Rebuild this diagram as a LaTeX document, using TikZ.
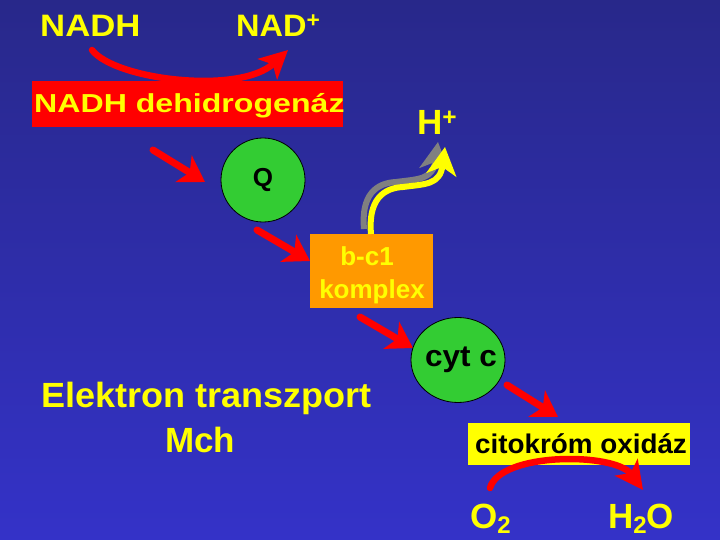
\documentclass[tikz,border=0pt]{standalone}
\usepackage{fontspec}
\setmainfont{Liberation Sans}
\usetikzlibrary{arrows.meta,shapes.geometric}
\definecolor{bgtop}{RGB}{40,40,138}
\definecolor{bgbot}{RGB}{52,50,200}
\definecolor{txtyel}{RGB}{255,255,0}
\definecolor{boxred}{RGB}{255,0,0}
\definecolor{boxorange}{RGB}{255,153,0}
\definecolor{cgreen}{RGB}{51,204,51}
\definecolor{shadowgrey}{RGB}{128,128,128}
\newcommand{\fsz}[1]{\fontsize{#1}{#1}\selectfont\bfseries}
\begin{document}
\begin{tikzpicture}[x=1pt,y=-1pt,
  lbl/.style={text=txtyel,inner sep=0pt},
  blk/.style={text=black,inner sep=0pt},
  redarrow/.style={draw=boxred,line width=7pt,line cap=round,
     -{Stealth[length=25pt,width=31pt,inset=7pt]}},
  redarc/.style={draw=boxred,line width=6.5pt,line cap=round,
     -{Stealth[length=28pt,width=28pt,inset=7pt]}},
  waveyel/.style={draw=txtyel,line width=6pt,
     -{Stealth[length=28pt,width=30pt,inset=8pt]}},
  wavegrey/.style={draw=shadowgrey,line width=6pt,
     -{Stealth[length=28pt,width=30pt,inset=8pt]}},
  greenball/.style={ellipse,fill=cgreen,draw=black,line width=0.8pt,inner sep=0pt}
]
\useasboundingbox (0,0) rectangle (720,540);
\shade[top color=bgtop,bottom color=bgbot] (0,0) rectangle (720,540);

% top NADH -> NAD+
\node[lbl,anchor=base west] (nadh) at (40,37) {\fsz{31}\scalebox{1.12}[1]{NADH}};
\node[lbl,anchor=base west] (nadp) at (236,37) {\fsz{31}\scalebox{1.05}[1]{NAD\textsuperscript{+}}};
\coordinate (arcAs) at (92,50);
\coordinate (arcAe) at (288,50);
\draw[redarc] (arcAs) .. controls (115,80) and (240,95) .. (arcAe);

% NADH dehidrogenaz box
\fill[boxred] (32,81) rectangle (343,127);
\node[lbl,anchor=base west] (nadhdh) at (34,113) {\fsz{26}\scalebox{1.235}[1]{NADH dehidrogenáz}};

% H+
\node[lbl,anchor=base west] (hplus) at (417,135) {\fsz{35}H\textsuperscript{+}};

% arrows
\coordinate (a1s) at (153,150); \coordinate (a1e) at (205,182);
\coordinate (a2s) at (257,230); \coordinate (a2e) at (310,261);
\coordinate (a3s) at (360,317); \coordinate (a3e) at (413,348);
\coordinate (a4s) at (507,385); \coordinate (a4e) at (558,417);
\draw[redarrow] (a1s) -- (a1e);
\draw[redarrow] (a2s) -- (a2e);
\draw[redarrow] (a3s) -- (a3e);
\draw[redarrow] (a4s) -- (a4e);

% Q
\node[greenball,minimum width=84pt,minimum height=84pt] (q) at (263,180) {};
\node[blk] (qtext) at (q.center) {\fsz{26}Q};

% b-c1 komplex
\fill[boxorange] (310,234) rectangle (433,308);
\node[lbl,anchor=base] (bc1) at (367,265) {\fsz{26}b-c1};
\node[lbl,anchor=base] (kompl) at (372,298) {\fsz{26}komplex};

% wavy arrow H+
\coordinate (wvs) at (371,234);
\coordinate (wve) at (445,147);
\draw[wavegrey] ([shift={(-7,-5)}]wvs) .. controls +(-3,-34) and +(-20,1) .. ([shift={(-7,-5)}]403,187)
   .. controls +(22,-3) and +(-5,38) .. ([shift={(-7,-5)}]wve);
\draw[waveyel] (wvs) .. controls +(-3,-34) and +(-20,1) .. (403,187)
   .. controls +(22,-3) and +(-5,38) .. (wve);

% cyt c
\node[greenball,minimum width=94pt,minimum height=85pt] (cytc) at (458,360) {};
\node[blk] (cyttext) at ([xshift=3pt]cytc.center) {\fsz{30}\scalebox{1.05}[1]{cyt c}};

% citokrom oxidaz
\fill[txtyel] (468,423) rectangle (690,465);
\node[blk,anchor=base west] (cox) at (475,453) {\fsz{27}\scalebox{1.03}[1]{citokróm oxidáz}};
\coordinate (arcBs) at (490,488);
\coordinate (arcBe) at (643,490);
\draw[redarc] (arcBs) .. controls (500,452) and (615,452) .. (arcBe);

% O2, H2O
\node[lbl,anchor=base west] (o2) at (470,528) {\fsz{35}O\raisebox{-5pt}{\fsz{24}2}};
\node[lbl,anchor=base west] (h2o) at (608,528) {\fsz{35}H\raisebox{-5pt}{\fsz{24}2}O};

% Elektron transzport Mch
\node[lbl,anchor=base west] (et) at (41,407) {\fsz{35}\scalebox{1.03}[1]{Elektron transzport}};
\node[lbl,anchor=base] (mch) at (200,452) {\fsz{35}Mch};
\end{tikzpicture}
\end{document}
